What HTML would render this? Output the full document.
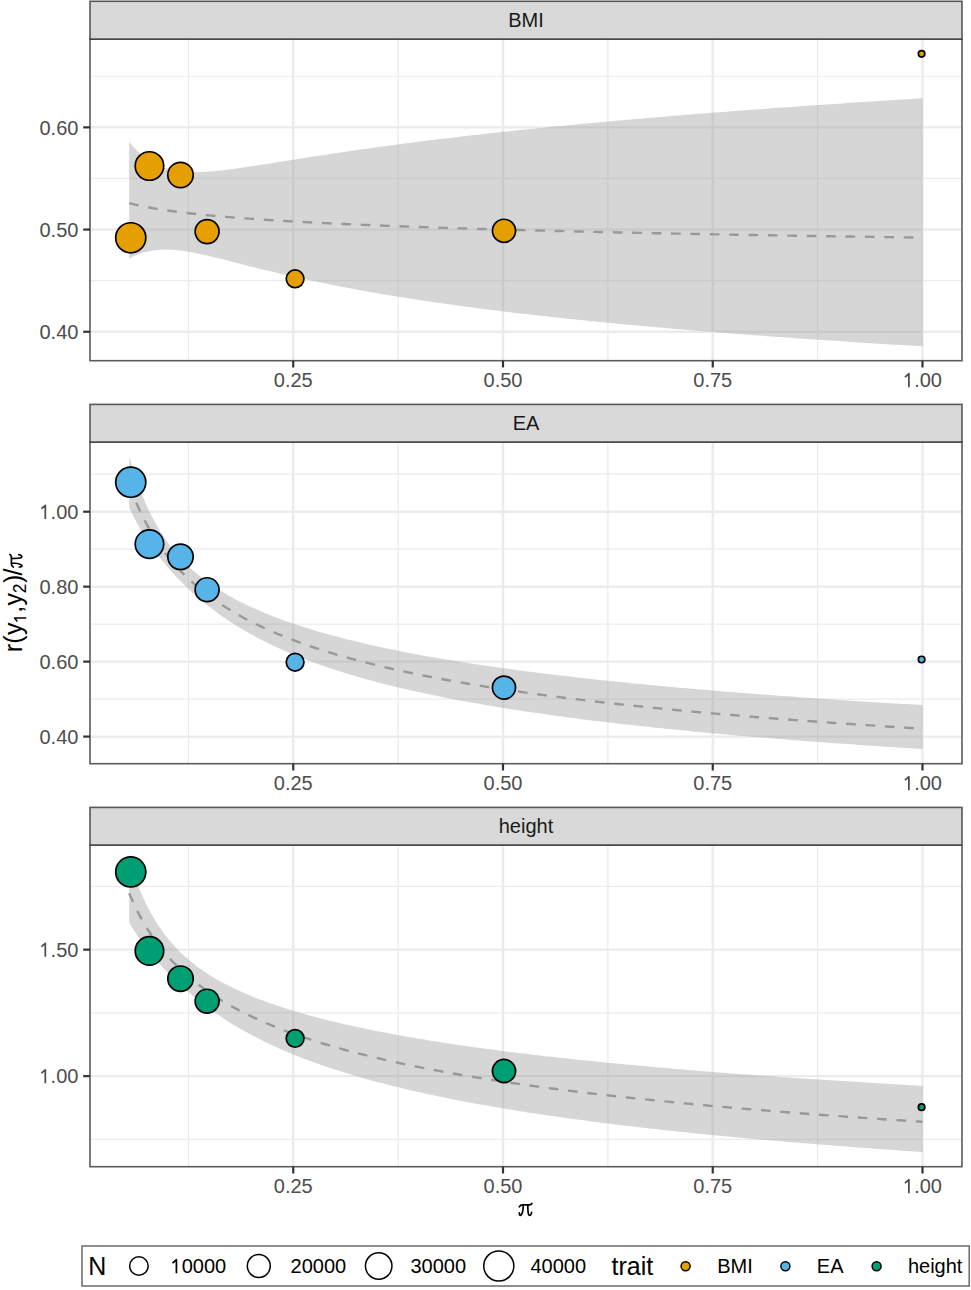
<!DOCTYPE html><html><head><meta charset="utf-8"><style>html,body{margin:0;padding:0;background:#fff;}svg{display:block;}</style></head><body><svg width="971" height="1290" viewBox="0 0 971 1290">
<rect width="971" height="1290" fill="#ffffff"/>
<clipPath id="c1"><rect x="90.0" y="39.05" width="872.0" height="321.65"/></clipPath>
<g clip-path="url(#c1)">
<line x1="90.0" x2="962.0" y1="280.65" y2="280.65" stroke="#EBEBEB" stroke-width="1.2"/>
<line x1="90.0" x2="962.0" y1="178.45" y2="178.45" stroke="#EBEBEB" stroke-width="1.2"/>
<line x1="90.0" x2="962.0" y1="76.25" y2="76.25" stroke="#EBEBEB" stroke-width="1.2"/>
<line x1="188.38" x2="188.38" y1="39.05" y2="360.7" stroke="#EBEBEB" stroke-width="1.2"/>
<line x1="398.12" x2="398.12" y1="39.05" y2="360.7" stroke="#EBEBEB" stroke-width="1.2"/>
<line x1="607.88" x2="607.88" y1="39.05" y2="360.7" stroke="#EBEBEB" stroke-width="1.2"/>
<line x1="817.62" x2="817.62" y1="39.05" y2="360.7" stroke="#EBEBEB" stroke-width="1.2"/>
<line x1="90.0" x2="962.0" y1="331.75" y2="331.75" stroke="#EBEBEB" stroke-width="2.4"/>
<line x1="90.0" x2="962.0" y1="229.55" y2="229.55" stroke="#EBEBEB" stroke-width="2.4"/>
<line x1="90.0" x2="962.0" y1="127.35" y2="127.35" stroke="#EBEBEB" stroke-width="2.4"/>
<line x1="293.25" x2="293.25" y1="39.05" y2="360.7" stroke="#EBEBEB" stroke-width="2.4"/>
<line x1="503.00" x2="503.00" y1="39.05" y2="360.7" stroke="#EBEBEB" stroke-width="2.4"/>
<line x1="712.75" x2="712.75" y1="39.05" y2="360.7" stroke="#EBEBEB" stroke-width="2.4"/>
<line x1="922.50" x2="922.50" y1="39.05" y2="360.7" stroke="#EBEBEB" stroke-width="2.4"/>
<polygon points="129.20,141.84 133.19,146.67 137.17,150.87 141.16,154.54 145.15,157.72 149.13,160.47 153.12,162.83 157.11,164.85 161.09,166.55 165.08,167.96 169.06,169.12 173.05,170.05 177.04,170.77 181.02,171.31 185.01,171.69 189.00,171.93 192.98,172.03 196.97,172.03 200.96,171.94 204.94,171.76 208.93,171.50 212.92,171.19 216.90,170.82 220.89,170.41 224.87,169.96 228.86,169.47 232.85,168.96 236.83,168.42 240.82,167.86 244.81,167.29 248.79,166.70 252.78,166.10 256.77,165.49 260.75,164.87 264.74,164.25 268.73,163.63 272.71,163.00 276.70,162.37 280.68,161.73 284.67,161.10 288.66,160.47 292.64,159.84 296.63,159.21 300.62,158.58 304.60,157.96 308.59,157.34 312.58,156.72 316.56,156.10 320.55,155.49 324.54,154.88 328.52,154.28 332.51,153.68 336.49,153.08 340.48,152.49 344.47,151.90 348.45,151.32 352.44,150.74 356.43,150.17 360.41,149.60 364.40,149.03 368.39,148.47 372.37,147.91 376.36,147.36 380.35,146.81 384.33,146.27 388.32,145.73 392.30,145.20 396.29,144.67 400.28,144.14 404.26,143.62 408.25,143.10 412.24,142.59 416.22,142.08 420.21,141.57 424.20,141.07 428.18,140.57 432.17,140.08 436.16,139.59 440.14,139.10 444.13,138.62 448.11,138.14 452.10,137.67 456.09,137.19 460.07,136.73 464.06,136.26 468.05,135.80 472.03,135.35 476.02,134.89 480.01,134.44 483.99,134.00 487.98,133.55 491.97,133.11 495.95,132.67 499.94,132.24 503.92,131.81 507.91,131.38 511.90,130.96 515.88,130.53 519.87,130.12 523.86,129.70 527.84,129.29 531.83,128.88 535.82,128.47 539.80,128.07 543.79,127.66 547.78,127.26 551.76,126.87 555.75,126.47 559.73,126.08 563.72,125.69 567.71,125.31 571.69,124.92 575.68,124.54 579.67,124.16 583.65,123.79 587.64,123.41 591.63,123.04 595.61,122.67 599.60,122.31 603.59,121.94 607.57,121.58 611.56,121.22 615.54,120.86 619.53,120.51 623.52,120.15 627.50,119.80 631.49,119.45 635.48,119.10 639.46,118.76 643.45,118.41 647.44,118.07 651.42,117.73 655.41,117.40 659.40,117.06 663.38,116.73 667.37,116.39 671.35,116.06 675.34,115.74 679.33,115.41 683.31,115.09 687.30,114.76 691.29,114.44 695.27,114.12 699.26,113.81 703.25,113.49 707.23,113.18 711.22,112.86 715.21,112.55 719.19,112.24 723.18,111.93 727.16,111.63 731.15,111.32 735.14,111.02 739.12,110.72 743.11,110.42 747.10,110.12 751.08,109.83 755.07,109.53 759.06,109.24 763.04,108.94 767.03,108.65 771.02,108.36 775.00,108.07 778.99,107.79 782.97,107.50 786.96,107.22 790.95,106.94 794.93,106.65 798.92,106.37 802.91,106.10 806.89,105.82 810.88,105.54 814.87,105.27 818.85,104.99 822.84,104.72 826.83,104.45 830.81,104.18 834.80,103.91 838.78,103.65 842.77,103.38 846.76,103.11 850.74,102.85 854.73,102.59 858.72,102.33 862.70,102.07 866.69,101.81 870.68,101.55 874.66,101.29 878.65,101.04 882.64,100.78 886.62,100.53 890.61,100.27 894.59,100.02 898.58,99.77 902.57,99.52 906.55,99.27 910.54,99.03 914.53,98.78 918.51,98.54 922.50,98.29 922.50,346.30 918.51,346.06 914.53,345.83 910.54,345.59 906.55,345.35 902.57,345.11 898.58,344.87 894.59,344.63 890.61,344.39 886.62,344.14 882.64,343.90 878.65,343.65 874.66,343.40 870.68,343.15 866.69,342.90 862.70,342.65 858.72,342.39 854.73,342.14 850.74,341.88 846.76,341.62 842.77,341.36 838.78,341.10 834.80,340.84 830.81,340.58 826.83,340.31 822.84,340.04 818.85,339.77 814.87,339.50 810.88,339.23 806.89,338.96 802.91,338.68 798.92,338.41 794.93,338.13 790.95,337.85 786.96,337.57 782.97,337.28 778.99,337.00 775.00,336.71 771.02,336.42 767.03,336.13 763.04,335.84 759.06,335.54 755.07,335.25 751.08,334.95 747.10,334.65 743.11,334.35 739.12,334.04 735.14,333.74 731.15,333.43 727.16,333.12 723.18,332.81 719.19,332.49 715.21,332.18 711.22,331.86 707.23,331.54 703.25,331.22 699.26,330.89 695.27,330.56 691.29,330.23 687.30,329.90 683.31,329.57 679.33,329.23 675.34,328.89 671.35,328.55 667.37,328.21 663.38,327.86 659.40,327.51 655.41,327.16 651.42,326.81 647.44,326.45 643.45,326.09 639.46,325.73 635.48,325.37 631.49,325.00 627.50,324.63 623.52,324.26 619.53,323.88 615.54,323.50 611.56,323.12 607.57,322.73 603.59,322.35 599.60,321.95 595.61,321.56 591.63,321.16 587.64,320.76 583.65,320.36 579.67,319.95 575.68,319.54 571.69,319.12 567.71,318.71 563.72,318.28 559.73,317.86 555.75,317.43 551.76,317.00 547.78,316.56 543.79,316.12 539.80,315.68 535.82,315.23 531.83,314.78 527.84,314.32 523.86,313.86 519.87,313.39 515.88,312.93 511.90,312.45 507.91,311.97 503.92,311.49 499.94,311.00 495.95,310.51 491.97,310.01 487.98,309.51 483.99,309.00 480.01,308.49 476.02,307.98 472.03,307.45 468.05,306.92 464.06,306.39 460.07,305.85 456.09,305.31 452.10,304.76 448.11,304.20 444.13,303.64 440.14,303.07 436.16,302.50 432.17,301.91 428.18,301.33 424.20,300.73 420.21,300.13 416.22,299.52 412.24,298.91 408.25,298.29 404.26,297.66 400.28,297.02 396.29,296.38 392.30,295.73 388.32,295.07 384.33,294.40 380.35,293.72 376.36,293.04 372.37,292.35 368.39,291.65 364.40,290.94 360.41,290.22 356.43,289.49 352.44,288.75 348.45,288.00 344.47,287.25 340.48,286.48 336.49,285.70 332.51,284.92 328.52,284.12 324.54,283.31 320.55,282.50 316.56,281.67 312.58,280.83 308.59,279.98 304.60,279.12 300.62,278.24 296.63,277.36 292.64,276.47 288.66,275.56 284.67,274.64 280.68,273.71 276.70,272.78 272.71,271.83 268.73,270.87 264.74,269.90 260.75,268.92 256.77,267.93 252.78,266.93 248.79,265.93 244.81,264.92 240.82,263.91 236.83,262.90 232.85,261.88 228.86,260.87 224.87,259.86 220.89,258.86 216.90,257.88 212.92,256.91 208.93,255.96 204.94,255.04 200.96,254.16 196.97,253.32 192.98,252.54 189.00,251.82 185.01,251.18 181.02,250.62 177.04,250.17 173.05,249.83 169.06,249.63 165.08,249.57 161.09,249.68 157.11,249.97 153.12,250.46 149.13,251.16 145.15,252.10 141.16,253.29 137.17,254.76 133.19,256.52 129.20,258.62" fill="#999999" fill-opacity="0.4"/>
<polyline points="129.20,203.12 133.19,204.15 137.17,205.09 141.16,205.96 145.15,206.77 149.13,207.54 153.12,208.25 157.11,208.93 161.09,209.56 165.08,210.17 169.06,210.75 173.05,211.30 177.04,211.82 181.02,212.32 185.01,212.80 189.00,213.27 192.98,213.71 196.97,214.14 200.96,214.56 204.94,214.96 208.93,215.34 212.92,215.72 216.90,216.08 220.89,216.43 224.87,216.77 228.86,217.10 232.85,217.43 236.83,217.74 240.82,218.05 244.81,218.34 248.79,218.63 252.78,218.92 256.77,219.19 260.75,219.46 264.74,219.73 268.73,219.99 272.71,220.24 276.70,220.49 280.68,220.73 284.67,220.96 288.66,221.20 292.64,221.42 296.63,221.65 300.62,221.87 304.60,222.08 308.59,222.29 312.58,222.50 316.56,222.70 320.55,222.90 324.54,223.10 328.52,223.29 332.51,223.48 336.49,223.67 340.48,223.85 344.47,224.03 348.45,224.21 352.44,224.39 356.43,224.56 360.41,224.73 364.40,224.90 368.39,225.07 372.37,225.23 376.36,225.39 380.35,225.55 384.33,225.70 388.32,225.86 392.30,226.01 396.29,226.16 400.28,226.31 404.26,226.46 408.25,226.60 412.24,226.74 416.22,226.89 420.21,227.02 424.20,227.16 428.18,227.30 432.17,227.43 436.16,227.57 440.14,227.70 444.13,227.83 448.11,227.96 452.10,228.08 456.09,228.21 460.07,228.33 464.06,228.45 468.05,228.58 472.03,228.70 476.02,228.82 480.01,228.93 483.99,229.05 487.98,229.17 491.97,229.28 495.95,229.39 499.94,229.50 503.92,229.62 507.91,229.73 511.90,229.83 515.88,229.94 519.87,230.05 523.86,230.15 527.84,230.26 531.83,230.36 535.82,230.47 539.80,230.57 543.79,230.67 547.78,230.77 551.76,230.87 555.75,230.97 559.73,231.06 563.72,231.16 567.71,231.26 571.69,231.35 575.68,231.45 579.67,231.54 583.65,231.63 587.64,231.72 591.63,231.82 595.61,231.91 599.60,232.00 603.59,232.09 607.57,232.17 611.56,232.26 615.54,232.35 619.53,232.43 623.52,232.52 627.50,232.61 631.49,232.69 635.48,232.77 639.46,232.86 643.45,232.94 647.44,233.02 651.42,233.10 655.41,233.18 659.40,233.26 663.38,233.34 667.37,233.42 671.35,233.50 675.34,233.58 679.33,233.66 683.31,233.73 687.30,233.81 691.29,233.89 695.27,233.96 699.26,234.04 703.25,234.11 707.23,234.19 711.22,234.26 715.21,234.33 719.19,234.40 723.18,234.48 727.16,234.55 731.15,234.62 735.14,234.69 739.12,234.76 743.11,234.83 747.10,234.90 751.08,234.97 755.07,235.04 759.06,235.11 763.04,235.17 767.03,235.24 771.02,235.31 775.00,235.37 778.99,235.44 782.97,235.51 786.96,235.57 790.95,235.64 794.93,235.70 798.92,235.77 802.91,235.83 806.89,235.89 810.88,235.96 814.87,236.02 818.85,236.08 822.84,236.14 826.83,236.21 830.81,236.27 834.80,236.33 838.78,236.39 842.77,236.45 846.76,236.51 850.74,236.57 854.73,236.63 858.72,236.69 862.70,236.75 866.69,236.80 870.68,236.86 874.66,236.92 878.65,236.98 882.64,237.04 886.62,237.09 890.61,237.15 894.59,237.21 898.58,237.26 902.57,237.32 906.55,237.37 910.54,237.43 914.53,237.48 918.51,237.54 922.50,237.59" fill="none" stroke="#999999" stroke-width="2.4" stroke-dasharray="9.7 9.7"/>
<circle cx="130.75" cy="237.8" r="15.05" fill="#E69F00" stroke="#000" stroke-width="1.7"/>
<circle cx="149.45" cy="166.0" r="14.25" fill="#E69F00" stroke="#000" stroke-width="1.7"/>
<circle cx="180.5" cy="175.0" r="12.70" fill="#E69F00" stroke="#000" stroke-width="1.7"/>
<circle cx="207.1" cy="231.6" r="11.95" fill="#E69F00" stroke="#000" stroke-width="1.7"/>
<circle cx="295.1" cy="278.8" r="8.85" fill="#E69F00" stroke="#000" stroke-width="1.7"/>
<circle cx="504.0" cy="230.8" r="11.55" fill="#E69F00" stroke="#000" stroke-width="1.7"/>
<circle cx="921.6" cy="53.8" r="3.25" fill="#E69F00" stroke="#000" stroke-width="1.7"/>
</g>
<rect x="90.0" y="39.05" width="872.0" height="321.65" fill="none" stroke="#333333" stroke-opacity="0.8" stroke-width="1.6"/>
<rect x="90.0" y="1.3" width="872.0" height="37.75" fill="#D9D9D9" stroke="#333333" stroke-opacity="0.8" stroke-width="1.6"/>
<text x="526.0" y="27.05" font-family="Liberation Sans, sans-serif" font-size="20" fill="#1A1A1A" text-anchor="middle">BMI</text>
<line x1="83.2" x2="90.0" y1="331.75" y2="331.75" stroke="#333333" stroke-width="2.2"/>
<text x="39.48" y="338.95" font-family="Liberation Sans, sans-serif" font-size="20" fill="#4D4D4D">0.40</text>
<line x1="83.2" x2="90.0" y1="229.55" y2="229.55" stroke="#333333" stroke-width="2.2"/>
<text x="39.48" y="236.75" font-family="Liberation Sans, sans-serif" font-size="20" fill="#4D4D4D">0.50</text>
<line x1="83.2" x2="90.0" y1="127.35" y2="127.35" stroke="#333333" stroke-width="2.2"/>
<text x="39.48" y="134.55" font-family="Liberation Sans, sans-serif" font-size="20" fill="#4D4D4D">0.60</text>
<line x1="293.25" x2="293.25" y1="360.7" y2="367.50" stroke="#333333" stroke-width="2.2"/>
<text x="273.79" y="387.30" font-family="Liberation Sans, sans-serif" font-size="20" fill="#4D4D4D">0.25</text>
<line x1="503.00" x2="503.00" y1="360.7" y2="367.50" stroke="#333333" stroke-width="2.2"/>
<text x="483.54" y="387.30" font-family="Liberation Sans, sans-serif" font-size="20" fill="#4D4D4D">0.50</text>
<line x1="712.75" x2="712.75" y1="360.7" y2="367.50" stroke="#333333" stroke-width="2.2"/>
<text x="693.29" y="387.30" font-family="Liberation Sans, sans-serif" font-size="20" fill="#4D4D4D">0.75</text>
<line x1="922.50" x2="922.50" y1="360.7" y2="367.50" stroke="#333333" stroke-width="2.2"/>
<path d="M904.94,377.10 L908.88,373.78 L908.88,387.30" fill="none" stroke="#4D4D4D" stroke-width="1.74" stroke-linejoin="round" stroke-linecap="butt"/><text x="914.16" y="387.30" font-family="Liberation Sans, sans-serif" font-size="20" fill="#4D4D4D">.00</text>
<clipPath id="c2"><rect x="90.0" y="442.0" width="872.0" height="321.70000000000005"/></clipPath>
<g clip-path="url(#c2)">
<line x1="90.0" x2="962.0" y1="699.10" y2="699.10" stroke="#EBEBEB" stroke-width="1.2"/>
<line x1="90.0" x2="962.0" y1="624.14" y2="624.14" stroke="#EBEBEB" stroke-width="1.2"/>
<line x1="90.0" x2="962.0" y1="549.18" y2="549.18" stroke="#EBEBEB" stroke-width="1.2"/>
<line x1="90.0" x2="962.0" y1="474.22" y2="474.22" stroke="#EBEBEB" stroke-width="1.2"/>
<line x1="188.38" x2="188.38" y1="442.0" y2="763.7" stroke="#EBEBEB" stroke-width="1.2"/>
<line x1="398.12" x2="398.12" y1="442.0" y2="763.7" stroke="#EBEBEB" stroke-width="1.2"/>
<line x1="607.88" x2="607.88" y1="442.0" y2="763.7" stroke="#EBEBEB" stroke-width="1.2"/>
<line x1="817.62" x2="817.62" y1="442.0" y2="763.7" stroke="#EBEBEB" stroke-width="1.2"/>
<line x1="90.0" x2="962.0" y1="736.58" y2="736.58" stroke="#EBEBEB" stroke-width="2.4"/>
<line x1="90.0" x2="962.0" y1="661.62" y2="661.62" stroke="#EBEBEB" stroke-width="2.4"/>
<line x1="90.0" x2="962.0" y1="586.66" y2="586.66" stroke="#EBEBEB" stroke-width="2.4"/>
<line x1="90.0" x2="962.0" y1="511.70" y2="511.70" stroke="#EBEBEB" stroke-width="2.4"/>
<line x1="293.25" x2="293.25" y1="442.0" y2="763.7" stroke="#EBEBEB" stroke-width="2.4"/>
<line x1="503.00" x2="503.00" y1="442.0" y2="763.7" stroke="#EBEBEB" stroke-width="2.4"/>
<line x1="712.75" x2="712.75" y1="442.0" y2="763.7" stroke="#EBEBEB" stroke-width="2.4"/>
<line x1="922.50" x2="922.50" y1="442.0" y2="763.7" stroke="#EBEBEB" stroke-width="2.4"/>
<polygon points="129.20,456.66 133.19,470.08 137.17,481.99 141.16,492.65 145.15,502.26 149.13,510.95 153.12,518.85 157.11,526.06 161.09,532.67 165.08,538.74 169.06,544.33 173.05,549.50 177.04,554.29 181.02,558.74 185.01,562.89 189.00,566.78 192.98,570.42 196.97,573.85 200.96,577.08 204.94,580.14 208.93,583.05 212.92,585.81 216.90,588.44 220.89,590.95 224.87,593.35 228.86,595.66 232.85,597.87 236.83,600.00 240.82,602.05 244.81,604.02 248.79,605.93 252.78,607.77 256.77,609.56 260.75,611.28 264.74,612.96 268.73,614.58 272.71,616.16 276.70,617.69 280.68,619.18 284.67,620.63 288.66,622.04 292.64,623.41 296.63,624.76 300.62,626.06 304.60,627.34 308.59,628.58 312.58,629.80 316.56,630.99 320.55,632.15 324.54,633.29 328.52,634.41 332.51,635.50 336.49,636.56 340.48,637.61 344.47,638.63 348.45,639.64 352.44,640.62 356.43,641.59 360.41,642.54 364.40,643.47 368.39,644.39 372.37,645.28 376.36,646.17 380.35,647.03 384.33,647.88 388.32,648.72 392.30,649.55 396.29,650.36 400.28,651.15 404.26,651.94 408.25,652.71 412.24,653.47 416.22,654.22 420.21,654.95 424.20,655.68 428.18,656.40 432.17,657.10 436.16,657.79 440.14,658.48 444.13,659.15 448.11,659.82 452.10,660.48 456.09,661.12 460.07,661.76 464.06,662.39 468.05,663.01 472.03,663.63 476.02,664.23 480.01,664.83 483.99,665.42 487.98,666.00 491.97,666.58 495.95,667.15 499.94,667.71 503.92,668.27 507.91,668.81 511.90,669.36 515.88,669.89 519.87,670.42 523.86,670.94 527.84,671.46 531.83,671.97 535.82,672.48 539.80,672.98 543.79,673.47 547.78,673.96 551.76,674.45 555.75,674.93 559.73,675.40 563.72,675.87 567.71,676.33 571.69,676.79 575.68,677.25 579.67,677.70 583.65,678.14 587.64,678.58 591.63,679.02 595.61,679.45 599.60,679.88 603.59,680.30 607.57,680.72 611.56,681.14 615.54,681.55 619.53,681.96 623.52,682.36 627.50,682.76 631.49,683.16 635.48,683.55 639.46,683.94 643.45,684.33 647.44,684.71 651.42,685.09 655.41,685.46 659.40,685.84 663.38,686.21 667.37,686.57 671.35,686.94 675.34,687.30 679.33,687.65 683.31,688.01 687.30,688.36 691.29,688.71 695.27,689.05 699.26,689.39 703.25,689.73 707.23,690.07 711.22,690.40 715.21,690.74 719.19,691.06 723.18,691.39 727.16,691.71 731.15,692.04 735.14,692.35 739.12,692.67 743.11,692.99 747.10,693.30 751.08,693.61 755.07,693.91 759.06,694.22 763.04,694.52 767.03,694.82 771.02,695.12 775.00,695.41 778.99,695.71 782.97,696.00 786.96,696.29 790.95,696.58 794.93,696.86 798.92,697.15 802.91,697.43 806.89,697.71 810.88,697.98 814.87,698.26 818.85,698.53 822.84,698.81 826.83,699.08 830.81,699.34 834.80,699.61 838.78,699.88 842.77,700.14 846.76,700.40 850.74,700.66 854.73,700.92 858.72,701.17 862.70,701.43 866.69,701.68 870.68,701.93 874.66,702.18 878.65,702.43 882.64,702.68 886.62,702.92 890.61,703.17 894.59,703.41 898.58,703.65 902.57,703.89 906.55,704.12 910.54,704.36 914.53,704.60 918.51,704.83 922.50,705.06 922.50,749.03 918.51,748.79 914.53,748.54 910.54,748.29 906.55,748.04 902.57,747.78 898.58,747.53 894.59,747.27 890.61,747.01 886.62,746.75 882.64,746.49 878.65,746.22 874.66,745.96 870.68,745.69 866.69,745.42 862.70,745.15 858.72,744.88 854.73,744.60 850.74,744.32 846.76,744.04 842.77,743.76 838.78,743.48 834.80,743.19 830.81,742.90 826.83,742.61 822.84,742.32 818.85,742.03 814.87,741.73 810.88,741.43 806.89,741.13 802.91,740.83 798.92,740.52 794.93,740.22 790.95,739.91 786.96,739.59 782.97,739.28 778.99,738.96 775.00,738.64 771.02,738.32 767.03,737.99 763.04,737.66 759.06,737.33 755.07,737.00 751.08,736.66 747.10,736.32 743.11,735.98 739.12,735.64 735.14,735.29 731.15,734.94 727.16,734.58 723.18,734.23 719.19,733.87 715.21,733.50 711.22,733.14 707.23,732.77 703.25,732.40 699.26,732.02 695.27,731.64 691.29,731.26 687.30,730.87 683.31,730.48 679.33,730.09 675.34,729.69 671.35,729.29 667.37,728.89 663.38,728.48 659.40,728.06 655.41,727.65 651.42,727.23 647.44,726.80 643.45,726.37 639.46,725.94 635.48,725.50 631.49,725.06 627.50,724.62 623.52,724.17 619.53,723.71 615.54,723.25 611.56,722.79 607.57,722.32 603.59,721.84 599.60,721.36 595.61,720.88 591.63,720.39 587.64,719.89 583.65,719.39 579.67,718.88 575.68,718.37 571.69,717.85 567.71,717.33 563.72,716.80 559.73,716.27 555.75,715.72 551.76,715.18 547.78,714.62 543.79,714.06 539.80,713.49 535.82,712.92 531.83,712.33 527.84,711.74 523.86,711.15 519.87,710.54 515.88,709.93 511.90,709.31 507.91,708.68 503.92,708.05 499.94,707.40 495.95,706.75 491.97,706.09 487.98,705.42 483.99,704.74 480.01,704.05 476.02,703.35 472.03,702.64 468.05,701.92 464.06,701.19 460.07,700.45 456.09,699.70 452.10,698.94 448.11,698.17 444.13,697.38 440.14,696.59 436.16,695.78 432.17,694.96 428.18,694.12 424.20,693.27 420.21,692.41 416.22,691.54 412.24,690.64 408.25,689.74 404.26,688.82 400.28,687.88 396.29,686.93 392.30,685.96 388.32,684.97 384.33,683.97 380.35,682.94 376.36,681.90 372.37,680.84 368.39,679.76 364.40,678.66 360.41,677.53 356.43,676.39 352.44,675.22 348.45,674.02 344.47,672.81 340.48,671.56 336.49,670.29 332.51,669.00 328.52,667.67 324.54,666.32 320.55,664.93 316.56,663.51 312.58,662.06 308.59,660.58 304.60,659.06 300.62,657.50 296.63,655.91 292.64,654.27 288.66,652.60 284.67,650.87 280.68,649.11 276.70,647.29 272.71,645.43 268.73,643.51 264.74,641.54 260.75,639.51 256.77,637.43 252.78,635.28 248.79,633.06 244.81,630.78 240.82,628.42 236.83,625.99 232.85,623.48 228.86,620.89 224.87,618.21 220.89,615.44 216.90,612.57 212.92,609.60 208.93,606.53 204.94,603.34 200.96,600.05 196.97,596.63 192.98,593.08 189.00,589.40 185.01,585.58 181.02,581.62 177.04,577.50 173.05,573.21 169.06,568.75 165.08,564.09 161.09,559.22 157.11,554.10 153.12,548.70 149.13,543.00 145.15,536.92 141.16,530.42 137.17,523.41 133.19,515.80 129.20,507.47" fill="#999999" fill-opacity="0.4"/>
<polyline points="129.20,484.57 133.19,495.23 137.17,504.81 141.16,513.49 145.15,521.41 149.13,528.69 153.12,535.40 157.11,541.63 161.09,547.42 165.08,552.83 169.06,557.91 173.05,562.68 177.04,567.18 181.02,571.43 185.01,575.46 189.00,579.28 192.98,582.92 196.97,586.39 200.96,589.70 204.94,592.86 208.93,595.89 212.92,598.80 216.90,601.59 220.89,604.27 224.87,606.85 228.86,609.34 232.85,611.74 236.83,614.05 240.82,616.29 244.81,618.45 248.79,620.55 252.78,622.57 256.77,624.54 260.75,626.45 264.74,628.30 268.73,630.10 272.71,631.84 276.70,633.54 280.68,635.20 284.67,636.81 288.66,638.38 292.64,639.91 296.63,641.40 300.62,642.85 304.60,644.27 308.59,645.66 312.58,647.01 316.56,648.34 320.55,649.63 324.54,650.90 328.52,652.13 332.51,653.34 336.49,654.53 340.48,655.69 344.47,656.83 348.45,657.95 352.44,659.04 356.43,660.11 360.41,661.17 364.40,662.20 368.39,663.21 372.37,664.21 376.36,665.18 380.35,666.14 384.33,667.08 388.32,668.01 392.30,668.92 396.29,669.81 400.28,670.69 404.26,671.56 408.25,672.41 412.24,673.25 416.22,674.07 420.21,674.88 424.20,675.68 428.18,676.47 432.17,677.24 436.16,678.00 440.14,678.75 444.13,679.50 448.11,680.22 452.10,680.94 456.09,681.65 460.07,682.35 464.06,683.04 468.05,683.72 472.03,684.39 476.02,685.05 480.01,685.71 483.99,686.35 487.98,686.99 491.97,687.61 495.95,688.23 499.94,688.84 503.92,689.45 507.91,690.05 511.90,690.63 515.88,691.22 519.87,691.79 523.86,692.36 527.84,692.92 531.83,693.47 535.82,694.02 539.80,694.56 543.79,695.10 547.78,695.63 551.76,696.15 555.75,696.67 559.73,697.18 563.72,697.69 567.71,698.19 571.69,698.68 575.68,699.17 579.67,699.66 583.65,700.14 587.64,700.61 591.63,701.08 595.61,701.55 599.60,702.01 603.59,702.46 607.57,702.91 611.56,703.36 615.54,703.80 619.53,704.24 623.52,704.67 627.50,705.10 631.49,705.53 635.48,705.95 639.46,706.36 643.45,706.78 647.44,707.19 651.42,707.59 655.41,707.99 659.40,708.39 663.38,708.79 667.37,709.18 671.35,709.56 675.34,709.95 679.33,710.33 683.31,710.70 687.30,711.08 691.29,711.45 695.27,711.82 699.26,712.18 703.25,712.54 707.23,712.90 711.22,713.25 715.21,713.61 719.19,713.95 723.18,714.30 727.16,714.64 731.15,714.98 735.14,715.32 739.12,715.66 743.11,715.99 747.10,716.32 751.08,716.65 755.07,716.97 759.06,717.29 763.04,717.61 767.03,717.93 771.02,718.24 775.00,718.56 778.99,718.87 782.97,719.17 786.96,719.48 790.95,719.78 794.93,720.08 798.92,720.38 802.91,720.68 806.89,720.97 810.88,721.26 814.87,721.55 818.85,721.84 822.84,722.13 826.83,722.41 830.81,722.69 834.80,722.97 838.78,723.25 842.77,723.52 846.76,723.80 850.74,724.07 854.73,724.34 858.72,724.61 862.70,724.88 866.69,725.14 870.68,725.40 874.66,725.66 878.65,725.92 882.64,726.18 886.62,726.44 890.61,726.69 894.59,726.94 898.58,727.20 902.57,727.44 906.55,727.69 910.54,727.94 914.53,728.18 918.51,728.43 922.50,728.67" fill="none" stroke="#999999" stroke-width="2.4" stroke-dasharray="9.7 9.7"/>
<circle cx="130.75" cy="482.2" r="15.05" fill="#56B4E9" stroke="#000" stroke-width="1.7"/>
<circle cx="149.45" cy="544.1" r="14.25" fill="#56B4E9" stroke="#000" stroke-width="1.7"/>
<circle cx="180.5" cy="556.8" r="12.70" fill="#56B4E9" stroke="#000" stroke-width="1.7"/>
<circle cx="207.1" cy="589.7" r="11.95" fill="#56B4E9" stroke="#000" stroke-width="1.7"/>
<circle cx="295.1" cy="662.2" r="8.85" fill="#56B4E9" stroke="#000" stroke-width="1.7"/>
<circle cx="504.0" cy="687.6" r="11.55" fill="#56B4E9" stroke="#000" stroke-width="1.7"/>
<circle cx="921.6" cy="659.5" r="3.25" fill="#56B4E9" stroke="#000" stroke-width="1.7"/>
</g>
<rect x="90.0" y="442.0" width="872.0" height="321.70000000000005" fill="none" stroke="#333333" stroke-opacity="0.8" stroke-width="1.6"/>
<rect x="90.0" y="404.4" width="872.0" height="37.60000000000002" fill="#D9D9D9" stroke="#333333" stroke-opacity="0.8" stroke-width="1.6"/>
<text x="526.0" y="430.00" font-family="Liberation Sans, sans-serif" font-size="20" fill="#1A1A1A" text-anchor="middle">EA</text>
<line x1="83.2" x2="90.0" y1="736.58" y2="736.58" stroke="#333333" stroke-width="2.2"/>
<text x="39.48" y="743.78" font-family="Liberation Sans, sans-serif" font-size="20" fill="#4D4D4D">0.40</text>
<line x1="83.2" x2="90.0" y1="661.62" y2="661.62" stroke="#333333" stroke-width="2.2"/>
<text x="39.48" y="668.82" font-family="Liberation Sans, sans-serif" font-size="20" fill="#4D4D4D">0.60</text>
<line x1="83.2" x2="90.0" y1="586.66" y2="586.66" stroke="#333333" stroke-width="2.2"/>
<text x="39.48" y="593.86" font-family="Liberation Sans, sans-serif" font-size="20" fill="#4D4D4D">0.80</text>
<line x1="83.2" x2="90.0" y1="511.70" y2="511.70" stroke="#333333" stroke-width="2.2"/>
<path d="M41.38,508.70 L45.32,505.38 L45.32,518.90" fill="none" stroke="#4D4D4D" stroke-width="1.74" stroke-linejoin="round" stroke-linecap="butt"/><text x="50.60" y="518.90" font-family="Liberation Sans, sans-serif" font-size="20" fill="#4D4D4D">.00</text>
<line x1="293.25" x2="293.25" y1="763.7" y2="770.50" stroke="#333333" stroke-width="2.2"/>
<text x="273.79" y="790.30" font-family="Liberation Sans, sans-serif" font-size="20" fill="#4D4D4D">0.25</text>
<line x1="503.00" x2="503.00" y1="763.7" y2="770.50" stroke="#333333" stroke-width="2.2"/>
<text x="483.54" y="790.30" font-family="Liberation Sans, sans-serif" font-size="20" fill="#4D4D4D">0.50</text>
<line x1="712.75" x2="712.75" y1="763.7" y2="770.50" stroke="#333333" stroke-width="2.2"/>
<text x="693.29" y="790.30" font-family="Liberation Sans, sans-serif" font-size="20" fill="#4D4D4D">0.75</text>
<line x1="922.50" x2="922.50" y1="763.7" y2="770.50" stroke="#333333" stroke-width="2.2"/>
<path d="M904.94,780.10 L908.88,776.78 L908.88,790.30" fill="none" stroke="#4D4D4D" stroke-width="1.74" stroke-linejoin="round" stroke-linecap="butt"/><text x="914.16" y="790.30" font-family="Liberation Sans, sans-serif" font-size="20" fill="#4D4D4D">.00</text>
<clipPath id="c3"><rect x="90.0" y="845.0" width="872.0" height="321.70000000000005"/></clipPath>
<g clip-path="url(#c3)">
<line x1="90.0" x2="962.0" y1="1139.40" y2="1139.40" stroke="#EBEBEB" stroke-width="1.2"/>
<line x1="90.0" x2="962.0" y1="1012.90" y2="1012.90" stroke="#EBEBEB" stroke-width="1.2"/>
<line x1="90.0" x2="962.0" y1="886.40" y2="886.40" stroke="#EBEBEB" stroke-width="1.2"/>
<line x1="188.38" x2="188.38" y1="845.0" y2="1166.7" stroke="#EBEBEB" stroke-width="1.2"/>
<line x1="398.12" x2="398.12" y1="845.0" y2="1166.7" stroke="#EBEBEB" stroke-width="1.2"/>
<line x1="607.88" x2="607.88" y1="845.0" y2="1166.7" stroke="#EBEBEB" stroke-width="1.2"/>
<line x1="817.62" x2="817.62" y1="845.0" y2="1166.7" stroke="#EBEBEB" stroke-width="1.2"/>
<line x1="90.0" x2="962.0" y1="1076.15" y2="1076.15" stroke="#EBEBEB" stroke-width="2.4"/>
<line x1="90.0" x2="962.0" y1="949.65" y2="949.65" stroke="#EBEBEB" stroke-width="2.4"/>
<line x1="293.25" x2="293.25" y1="845.0" y2="1166.7" stroke="#EBEBEB" stroke-width="2.4"/>
<line x1="503.00" x2="503.00" y1="845.0" y2="1166.7" stroke="#EBEBEB" stroke-width="2.4"/>
<line x1="712.75" x2="712.75" y1="845.0" y2="1166.7" stroke="#EBEBEB" stroke-width="2.4"/>
<line x1="922.50" x2="922.50" y1="845.0" y2="1166.7" stroke="#EBEBEB" stroke-width="2.4"/>
<polygon points="129.20,860.75 133.19,872.86 137.17,883.63 141.16,893.27 145.15,901.96 149.13,909.82 153.12,916.96 157.11,923.48 161.09,929.44 165.08,934.91 169.06,939.94 173.05,944.59 177.04,948.89 181.02,952.89 185.01,956.61 189.00,960.09 192.98,963.35 196.97,966.42 200.96,969.31 204.94,972.04 208.93,974.63 212.92,977.10 216.90,979.44 220.89,981.68 224.87,983.82 228.86,985.87 232.85,987.84 236.83,989.73 240.82,991.56 244.81,993.31 248.79,995.01 252.78,996.65 256.77,998.23 260.75,999.77 264.74,1001.26 268.73,1002.70 272.71,1004.11 276.70,1005.47 280.68,1006.80 284.67,1008.09 288.66,1009.35 292.64,1010.57 296.63,1011.77 300.62,1012.93 304.60,1014.07 308.59,1015.19 312.58,1016.28 316.56,1017.34 320.55,1018.38 324.54,1019.40 328.52,1020.40 332.51,1021.38 336.49,1022.33 340.48,1023.27 344.47,1024.19 348.45,1025.10 352.44,1025.98 356.43,1026.85 360.41,1027.71 364.40,1028.55 368.39,1029.37 372.37,1030.18 376.36,1030.98 380.35,1031.76 384.33,1032.53 388.32,1033.29 392.30,1034.04 396.29,1034.77 400.28,1035.50 404.26,1036.21 408.25,1036.91 412.24,1037.60 416.22,1038.28 420.21,1038.95 424.20,1039.61 428.18,1040.26 432.17,1040.91 436.16,1041.54 440.14,1042.16 444.13,1042.78 448.11,1043.39 452.10,1043.99 456.09,1044.58 460.07,1045.17 464.06,1045.74 468.05,1046.31 472.03,1046.88 476.02,1047.43 480.01,1047.98 483.99,1048.53 487.98,1049.06 491.97,1049.59 495.95,1050.12 499.94,1050.63 503.92,1051.14 507.91,1051.65 511.90,1052.15 515.88,1052.65 519.87,1053.14 523.86,1053.62 527.84,1054.10 531.83,1054.57 535.82,1055.04 539.80,1055.50 543.79,1055.96 547.78,1056.42 551.76,1056.87 555.75,1057.31 559.73,1057.75 563.72,1058.19 567.71,1058.62 571.69,1059.05 575.68,1059.47 579.67,1059.89 583.65,1060.30 587.64,1060.72 591.63,1061.12 595.61,1061.53 599.60,1061.93 603.59,1062.32 607.57,1062.72 611.56,1063.10 615.54,1063.49 619.53,1063.87 623.52,1064.25 627.50,1064.63 631.49,1065.00 635.48,1065.37 639.46,1065.73 643.45,1066.10 647.44,1066.46 651.42,1066.81 655.41,1067.17 659.40,1067.52 663.38,1067.87 667.37,1068.21 671.35,1068.55 675.34,1068.89 679.33,1069.23 683.31,1069.56 687.30,1069.90 691.29,1070.23 695.27,1070.55 699.26,1070.88 703.25,1071.20 707.23,1071.52 711.22,1071.83 715.21,1072.15 719.19,1072.46 723.18,1072.77 727.16,1073.08 731.15,1073.38 735.14,1073.68 739.12,1073.98 743.11,1074.28 747.10,1074.58 751.08,1074.87 755.07,1075.17 759.06,1075.46 763.04,1075.74 767.03,1076.03 771.02,1076.31 775.00,1076.60 778.99,1076.88 782.97,1077.15 786.96,1077.43 790.95,1077.71 794.93,1077.98 798.92,1078.25 802.91,1078.52 806.89,1078.79 810.88,1079.05 814.87,1079.32 818.85,1079.58 822.84,1079.84 826.83,1080.10 830.81,1080.36 834.80,1080.61 838.78,1080.87 842.77,1081.12 846.76,1081.37 850.74,1081.62 854.73,1081.87 858.72,1082.11 862.70,1082.36 866.69,1082.60 870.68,1082.84 874.66,1083.08 878.65,1083.32 882.64,1083.56 886.62,1083.80 890.61,1084.03 894.59,1084.27 898.58,1084.50 902.57,1084.73 906.55,1084.96 910.54,1085.19 914.53,1085.41 918.51,1085.64 922.50,1085.86 922.50,1151.98 918.51,1151.71 914.53,1151.44 910.54,1151.17 906.55,1150.90 902.57,1150.63 898.58,1150.35 894.59,1150.07 890.61,1149.79 886.62,1149.51 882.64,1149.23 878.65,1148.94 874.66,1148.65 870.68,1148.36 866.69,1148.07 862.70,1147.78 858.72,1147.48 854.73,1147.19 850.74,1146.89 846.76,1146.59 842.77,1146.28 838.78,1145.98 834.80,1145.67 830.81,1145.36 826.83,1145.05 822.84,1144.73 818.85,1144.42 814.87,1144.10 810.88,1143.78 806.89,1143.45 802.91,1143.13 798.92,1142.80 794.93,1142.47 790.95,1142.14 786.96,1141.80 782.97,1141.46 778.99,1141.12 775.00,1140.78 771.02,1140.43 767.03,1140.08 763.04,1139.73 759.06,1139.38 755.07,1139.02 751.08,1138.66 747.10,1138.30 743.11,1137.94 739.12,1137.57 735.14,1137.20 731.15,1136.82 727.16,1136.44 723.18,1136.06 719.19,1135.68 715.21,1135.29 711.22,1134.90 707.23,1134.51 703.25,1134.11 699.26,1133.71 695.27,1133.31 691.29,1132.90 687.30,1132.49 683.31,1132.08 679.33,1131.66 675.34,1131.24 671.35,1130.81 667.37,1130.39 663.38,1129.95 659.40,1129.52 655.41,1129.08 651.42,1128.63 647.44,1128.18 643.45,1127.73 639.46,1127.27 635.48,1126.81 631.49,1126.34 627.50,1125.87 623.52,1125.40 619.53,1124.92 615.54,1124.43 611.56,1123.94 607.57,1123.45 603.59,1122.95 599.60,1122.44 595.61,1121.93 591.63,1121.42 587.64,1120.90 583.65,1120.37 579.67,1119.84 575.68,1119.31 571.69,1118.76 567.71,1118.21 563.72,1117.66 559.73,1117.10 555.75,1116.53 551.76,1115.96 547.78,1115.38 543.79,1114.79 539.80,1114.20 535.82,1113.60 531.83,1112.99 527.84,1112.38 523.86,1111.76 519.87,1111.13 515.88,1110.49 511.90,1109.85 507.91,1109.20 503.92,1108.54 499.94,1107.87 495.95,1107.19 491.97,1106.51 487.98,1105.82 483.99,1105.11 480.01,1104.40 476.02,1103.68 472.03,1102.95 468.05,1102.21 464.06,1101.45 460.07,1100.69 456.09,1099.92 452.10,1099.14 448.11,1098.34 444.13,1097.54 440.14,1096.72 436.16,1095.89 432.17,1095.05 428.18,1094.19 424.20,1093.33 420.21,1092.45 416.22,1091.55 412.24,1090.64 408.25,1089.72 404.26,1088.78 400.28,1087.83 396.29,1086.86 392.30,1085.88 388.32,1084.87 384.33,1083.86 380.35,1082.82 376.36,1081.77 372.37,1080.69 368.39,1079.60 364.40,1078.49 360.41,1077.36 356.43,1076.20 352.44,1075.03 348.45,1073.83 344.47,1072.61 340.48,1071.36 336.49,1070.09 332.51,1068.80 328.52,1067.47 324.54,1066.12 320.55,1064.75 316.56,1063.34 312.58,1061.90 308.59,1060.43 304.60,1058.92 300.62,1057.38 296.63,1055.81 292.64,1054.20 288.66,1052.55 284.67,1050.86 280.68,1049.13 276.70,1047.35 272.71,1045.53 268.73,1043.67 264.74,1041.75 260.75,1039.78 256.77,1037.76 252.78,1035.69 248.79,1033.55 244.81,1031.36 240.82,1029.10 236.83,1026.77 232.85,1024.38 228.86,1021.91 224.87,1019.37 220.89,1016.75 216.90,1014.05 212.92,1011.27 208.93,1008.39 204.94,1005.43 200.96,1002.37 196.97,999.21 192.98,995.94 189.00,992.58 185.01,989.10 181.02,985.51 177.04,981.80 173.05,977.96 169.06,974.00 165.08,969.89 161.09,965.62 157.11,961.19 153.12,956.56 149.13,951.72 145.15,946.62 141.16,941.23 137.17,935.49 133.19,929.34 129.20,922.69" fill="#999999" fill-opacity="0.4"/>
<polyline points="129.20,893.18 133.19,902.39 137.17,910.72 141.16,918.30 145.15,925.26 149.13,931.67 153.12,937.61 157.11,943.13 161.09,948.30 165.08,953.14 169.06,957.69 173.05,961.99 177.04,966.05 181.02,969.90 185.01,973.55 189.00,977.03 192.98,980.35 196.97,983.52 200.96,986.56 204.94,989.46 208.93,992.25 212.92,994.93 216.90,997.51 220.89,1000.00 224.87,1002.39 228.86,1004.70 232.85,1006.94 236.83,1009.10 240.82,1011.19 244.81,1013.21 248.79,1015.18 252.78,1017.08 256.77,1018.93 260.75,1020.73 264.74,1022.47 268.73,1024.17 272.71,1025.83 276.70,1027.44 280.68,1029.01 284.67,1030.54 288.66,1032.03 292.64,1033.49 296.63,1034.91 300.62,1036.30 304.60,1037.65 308.59,1038.98 312.58,1040.28 316.56,1041.55 320.55,1042.79 324.54,1044.01 328.52,1045.20 332.51,1046.37 336.49,1047.51 340.48,1048.63 344.47,1049.73 348.45,1050.81 352.44,1051.87 356.43,1052.91 360.41,1053.93 364.40,1054.94 368.39,1055.92 372.37,1056.89 376.36,1057.84 380.35,1058.78 384.33,1059.70 388.32,1060.60 392.30,1061.49 396.29,1062.36 400.28,1063.23 404.26,1064.07 408.25,1064.91 412.24,1065.73 416.22,1066.54 420.21,1067.34 424.20,1068.12 428.18,1068.90 432.17,1069.66 436.16,1070.41 440.14,1071.15 444.13,1071.88 448.11,1072.61 452.10,1073.32 456.09,1074.02 460.07,1074.71 464.06,1075.39 468.05,1076.07 472.03,1076.73 476.02,1077.39 480.01,1078.04 483.99,1078.68 487.98,1079.31 491.97,1079.94 495.95,1080.56 499.94,1081.17 503.92,1081.77 507.91,1082.36 511.90,1082.95 515.88,1083.53 519.87,1084.11 523.86,1084.68 527.84,1085.24 531.83,1085.79 535.82,1086.34 539.80,1086.89 543.79,1087.42 547.78,1087.96 551.76,1088.48 555.75,1089.00 559.73,1089.52 563.72,1090.03 567.71,1090.53 571.69,1091.03 575.68,1091.52 579.67,1092.01 583.65,1092.50 587.64,1092.98 591.63,1093.45 595.61,1093.92 599.60,1094.39 603.59,1094.85 607.57,1095.30 611.56,1095.76 615.54,1096.20 619.53,1096.65 623.52,1097.09 627.50,1097.52 631.49,1097.95 635.48,1098.38 639.46,1098.80 643.45,1099.22 647.44,1099.64 651.42,1100.05 655.41,1100.46 659.40,1100.87 663.38,1101.27 667.37,1101.67 671.35,1102.06 675.34,1102.45 679.33,1102.84 683.31,1103.23 687.30,1103.61 691.29,1103.99 695.27,1104.36 699.26,1104.73 703.25,1105.10 707.23,1105.47 711.22,1105.83 715.21,1106.19 719.19,1106.55 723.18,1106.91 727.16,1107.26 731.15,1107.61 735.14,1107.96 739.12,1108.30 743.11,1108.64 747.10,1108.98 751.08,1109.32 755.07,1109.65 759.06,1109.98 763.04,1110.31 767.03,1110.64 771.02,1110.96 775.00,1111.28 778.99,1111.60 782.97,1111.92 786.96,1112.24 790.95,1112.55 794.93,1112.86 798.92,1113.17 802.91,1113.47 806.89,1113.78 810.88,1114.08 814.87,1114.38 818.85,1114.68 822.84,1114.97 826.83,1115.27 830.81,1115.56 834.80,1115.85 838.78,1116.14 842.77,1116.42 846.76,1116.71 850.74,1116.99 854.73,1117.27 858.72,1117.55 862.70,1117.83 866.69,1118.10 870.68,1118.38 874.66,1118.65 878.65,1118.92 882.64,1119.19 886.62,1119.45 890.61,1119.72 894.59,1119.98 898.58,1120.24 902.57,1120.50 906.55,1120.76 910.54,1121.02 914.53,1121.27 918.51,1121.53 922.50,1121.78" fill="none" stroke="#999999" stroke-width="2.4" stroke-dasharray="9.7 9.7"/>
<circle cx="130.75" cy="871.9" r="15.05" fill="#009E73" stroke="#000" stroke-width="1.7"/>
<circle cx="149.45" cy="950.9" r="14.25" fill="#009E73" stroke="#000" stroke-width="1.7"/>
<circle cx="180.5" cy="978.7" r="12.70" fill="#009E73" stroke="#000" stroke-width="1.7"/>
<circle cx="207.1" cy="1001.2" r="11.95" fill="#009E73" stroke="#000" stroke-width="1.7"/>
<circle cx="295.1" cy="1038.4" r="8.85" fill="#009E73" stroke="#000" stroke-width="1.7"/>
<circle cx="504.0" cy="1071.0" r="11.55" fill="#009E73" stroke="#000" stroke-width="1.7"/>
<circle cx="921.6" cy="1107.2" r="3.25" fill="#009E73" stroke="#000" stroke-width="1.7"/>
</g>
<rect x="90.0" y="845.0" width="872.0" height="321.70000000000005" fill="none" stroke="#333333" stroke-opacity="0.8" stroke-width="1.6"/>
<rect x="90.0" y="807.4" width="872.0" height="37.60000000000002" fill="#D9D9D9" stroke="#333333" stroke-opacity="0.8" stroke-width="1.6"/>
<text x="526.0" y="833.00" font-family="Liberation Sans, sans-serif" font-size="20" fill="#1A1A1A" text-anchor="middle">height</text>
<line x1="83.2" x2="90.0" y1="1076.15" y2="1076.15" stroke="#333333" stroke-width="2.2"/>
<path d="M41.38,1073.15 L45.32,1069.83 L45.32,1083.35" fill="none" stroke="#4D4D4D" stroke-width="1.74" stroke-linejoin="round" stroke-linecap="butt"/><text x="50.60" y="1083.35" font-family="Liberation Sans, sans-serif" font-size="20" fill="#4D4D4D">.00</text>
<line x1="83.2" x2="90.0" y1="949.65" y2="949.65" stroke="#333333" stroke-width="2.2"/>
<path d="M41.38,946.65 L45.32,943.33 L45.32,956.85" fill="none" stroke="#4D4D4D" stroke-width="1.74" stroke-linejoin="round" stroke-linecap="butt"/><text x="50.60" y="956.85" font-family="Liberation Sans, sans-serif" font-size="20" fill="#4D4D4D">.50</text>
<line x1="293.25" x2="293.25" y1="1166.7" y2="1173.50" stroke="#333333" stroke-width="2.2"/>
<text x="273.79" y="1193.30" font-family="Liberation Sans, sans-serif" font-size="20" fill="#4D4D4D">0.25</text>
<line x1="503.00" x2="503.00" y1="1166.7" y2="1173.50" stroke="#333333" stroke-width="2.2"/>
<text x="483.54" y="1193.30" font-family="Liberation Sans, sans-serif" font-size="20" fill="#4D4D4D">0.50</text>
<line x1="712.75" x2="712.75" y1="1166.7" y2="1173.50" stroke="#333333" stroke-width="2.2"/>
<text x="693.29" y="1193.30" font-family="Liberation Sans, sans-serif" font-size="20" fill="#4D4D4D">0.75</text>
<line x1="922.50" x2="922.50" y1="1166.7" y2="1173.50" stroke="#333333" stroke-width="2.2"/>
<path d="M904.94,1183.10 L908.88,1179.78 L908.88,1193.30" fill="none" stroke="#4D4D4D" stroke-width="1.74" stroke-linejoin="round" stroke-linecap="butt"/><text x="914.16" y="1193.30" font-family="Liberation Sans, sans-serif" font-size="20" fill="#4D4D4D">.00</text>
<path transform="translate(518.5,1215.6)" d="M0.7,-8.7 Q2,-10.8 4,-10.7 L11,-10.7 Q12.5,-10.9 13.4,-12.2 M4.8,-10.6 C4.7,-6.6 4.3,-2.1 2.5,-0.4 C1.5,0.4 0.8,-1.1 0.8,-2.8 M9.3,-10.6 C9.3,-6.6 9.3,-2.6 10.3,-0.8 C11.3,0.6 13,-1.1 13.1,-3.3" fill="none" stroke="#000" stroke-width="1.7" stroke-linecap="round"/>
<g transform="translate(21.7,0) rotate(-90)">
<text x="-652.26" y="0" font-family="Liberation Sans, sans-serif" font-size="25" fill="#000">r</text>
<text x="-643.8" y="0" font-family="Liberation Sans, sans-serif" font-size="25" fill="#000">(</text>
<text x="-634.9" y="0" font-family="Liberation Sans, sans-serif" font-size="25" fill="#000">y</text>
<text x="-612.7" y="0" font-family="Liberation Sans, sans-serif" font-size="25" fill="#000">,</text>
<text x="-605.5" y="0" font-family="Liberation Sans, sans-serif" font-size="25" fill="#000">y</text>
<text x="-593.3" y="4.6" font-family="Liberation Sans, sans-serif" font-size="17.5" fill="#000">2</text>
<text x="-583.1" y="0" font-family="Liberation Sans, sans-serif" font-size="25" fill="#000">)</text>
<text x="-575.5" y="0" font-family="Liberation Sans, sans-serif" font-size="25" fill="#000">/</text>
<path d="M-621.54,-4.33 L-618.09,-7.23 L-618.09,4.60" fill="none" stroke="#000" stroke-width="1.52" stroke-linejoin="round" stroke-linecap="butt"/>
</g>
<path transform="translate(22.1,567.8) rotate(-90)" d="M0.7,-8.7 Q2,-10.8 4,-10.7 L11,-10.7 Q12.5,-10.9 13.4,-12.2 M4.8,-10.6 C4.7,-6.6 4.3,-2.1 2.5,-0.4 C1.5,0.4 0.8,-1.1 0.8,-2.8 M9.3,-10.6 C9.3,-6.6 9.3,-2.6 10.3,-0.8 C11.3,0.6 13,-1.1 13.1,-3.3" fill="none" stroke="#000" stroke-width="1.7" stroke-linecap="round"/>
<rect x="82" y="1246.0" width="887.2" height="40.0" fill="#fff" stroke="#737373" stroke-width="1.6"/>
<text x="88.2" y="1275.2" font-family="Liberation Sans, sans-serif" font-size="25" fill="#000">N</text>
<circle cx="138.9" cy="1266" r="9.25" fill="none" stroke="#000" stroke-width="1.5"/>
<path d="M172.50,1263.10 L176.44,1259.78 L176.44,1273.30" fill="none" stroke="#000" stroke-width="1.74" stroke-linejoin="round" stroke-linecap="butt"/><text x="181.72" y="1273.30" font-family="Liberation Sans, sans-serif" font-size="20" fill="#000">0000</text>
<circle cx="258.8" cy="1266" r="11.50" fill="none" stroke="#000" stroke-width="1.5"/>
<text x="290.60" y="1273.30" font-family="Liberation Sans, sans-serif" font-size="20" fill="#000">20000</text>
<circle cx="378.7" cy="1266" r="13.25" fill="none" stroke="#000" stroke-width="1.5"/>
<text x="410.50" y="1273.30" font-family="Liberation Sans, sans-serif" font-size="20" fill="#000">30000</text>
<circle cx="498.8" cy="1266" r="15.05" fill="none" stroke="#000" stroke-width="1.5"/>
<text x="530.40" y="1273.30" font-family="Liberation Sans, sans-serif" font-size="20" fill="#000">40000</text>
<text x="611.5" y="1275.1" font-family="Liberation Sans, sans-serif" font-size="25" fill="#000">trait</text>
<circle cx="685.6" cy="1266.3" r="4.5" fill="#E69F00" stroke="#000" stroke-width="1.5"/>
<text x="717.2" y="1273.3" font-family="Liberation Sans, sans-serif" font-size="20" fill="#000">BMI</text>
<circle cx="785.4" cy="1266.3" r="4.5" fill="#56B4E9" stroke="#000" stroke-width="1.5"/>
<text x="816.8" y="1273.3" font-family="Liberation Sans, sans-serif" font-size="20" fill="#000">EA</text>
<circle cx="876.6" cy="1266.3" r="4.5" fill="#009E73" stroke="#000" stroke-width="1.5"/>
<text x="907.9" y="1273.3" font-family="Liberation Sans, sans-serif" font-size="20" fill="#000">height</text>
</svg></body></html>
